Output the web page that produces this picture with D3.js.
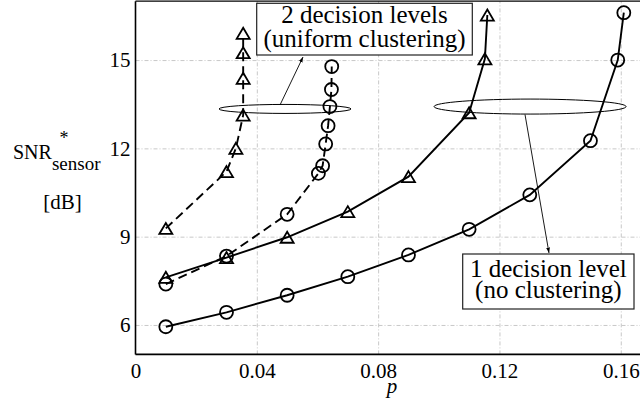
<!DOCTYPE html>
<html><head><meta charset="utf-8">
<script src="https://cdn.jsdelivr.net/npm/d3@7"></script>
<style>
body{margin:0;background:#fff}
svg{display:block}
</style>
</head><body>
<svg id="chart" width="640" height="399"></svg>
<script>
// Axis ticks
const xTicks = [0, 0.04, 0.08, 0.12, 0.16];
const yTicks = [6, 9, 12, 15];

// 1 decision level (no clustering)
const p1Circle   = [0.01, 0.03, 0.05, 0.07, 0.09, 0.11, 0.13, 0.15, 0.159, 0.161];
const snr1Circle = [5.94, 6.43, 7.01, 7.64, 8.38, 9.25, 10.42, 12.26, 15.0, 16.61];
const p1Tri      = [0.01, 0.03, 0.05, 0.07, 0.09, 0.11, 0.1152, 0.116];
const snr1Tri    = [7.62, 8.29, 8.98, 9.85, 11.04, 13.21, 15.04, 16.53];

// 2 decision levels (uniform clustering)
const p2Circle   = [0.01, 0.03, 0.05, 0.0603, 0.0617, 0.0627, 0.0635, 0.0641, 0.0646, 0.0647];
const snr2Circle = [7.39, 8.34, 9.76, 11.15, 11.41, 12.15, 12.77, 13.42, 14.0, 14.78];
const p2Tri      = [0.01, 0.03, 0.0331, 0.0355, 0.0355, 0.0355, 0.0355];
const snr2Tri    = [9.28, 11.21, 12.0, 13.13, 14.38, 15.25, 15.91];

const series = [
  {p: p1Circle, snr: snr1Circle, marker: "circle",   dash: null},
  {p: p1Tri,    snr: snr1Tri,    marker: "triangle", dash: null},
  {p: p2Circle, snr: snr2Circle, marker: "circle",   dash: "9,5"},
  {p: p2Tri,    snr: snr2Tri,    marker: "triangle", dash: "9,5"}
];

const SERIF = "'Liberation Serif', Tinos, 'Times New Roman', 'DejaVu Serif', serif";
const plotL = 135.5, plotB = 354.4, plotT = 1.2, plotR = 640;
const x = d3.scaleLinear().domain([0, 0.17]).range([plotL, plotL + 0.17 * 3033]);
const y = d3.scaleLinear().domain([5, 17]).range([plotB, plotT]);

const svg = d3.select("#chart").style("font-family", SERIF);

// grid + tick labels
const fmt = d => d === 0 ? "0" : d3.format(".2f")(d);
const gx = svg.append("g").attr("transform", `translate(0,${plotB})`)
  .call(d3.axisBottom(x).tickValues(xTicks).tickFormat(fmt).tickSizeInner(-(plotB - plotT)).tickSizeOuter(0).tickPadding(9));
const gy = svg.append("g").attr("transform", `translate(${plotL},0)`)
  .call(d3.axisLeft(y).tickValues(yTicks).tickSizeInner(-(plotR - plotL)).tickSizeOuter(0).tickPadding(5));
[gx, gy].forEach(g => {
  g.attr("font-family", null).attr("font-size", null);
  g.select(".domain").remove();
  g.selectAll(".tick line").attr("stroke", "#c8c8c8").attr("stroke-width", 1).attr("stroke-dasharray", "4,2,1,2");
  g.selectAll(".tick text").style("font-family", SERIF).style("font-size", "21px").attr("fill", "#000");
});
gx.selectAll(".tick").filter(d => d === 0).select("line").remove();

// frame
svg.append("line").attr("x1", plotL).attr("x2", plotL).attr("y1", plotT).attr("y2", plotB).attr("stroke", "#000").attr("stroke-width", 1.6);
svg.append("line").attr("x1", plotL).attr("x2", plotR).attr("y1", plotB).attr("y2", plotB).attr("stroke", "#000").attr("stroke-width", 1.6);
svg.append("line").attr("x1", plotL).attr("x2", plotR).attr("y1", plotT).attr("y2", plotT).attr("stroke", "#000").attr("stroke-width", 1.2);

// series
const line = d3.line().x(d => x(d[0])).y(d => y(d[1]));
const triPath = "M0,-5.5L6.5,5.5L-6.5,5.5Z";
series.forEach(s => {
  const pts = s.p.map((v, i) => [v, s.snr[i]]);
  svg.append("path").datum(pts).attr("d", line).attr("fill", "none")
    .attr("stroke", "#000").attr("stroke-width", 1.9).attr("stroke-dasharray", s.dash);
  const g = svg.append("g");
  pts.forEach(d => {
    if (s.marker === "circle") {
      g.append("circle").attr("cx", x(d[0])).attr("cy", y(d[1])).attr("r", 6.5)
        .attr("fill", "none").attr("stroke", "#000").attr("stroke-width", 1.8);
    } else {
      g.append("path").attr("d", triPath).attr("transform", `translate(${x(d[0])},${y(d[1])})`)
        .attr("fill", "none").attr("stroke", "#000").attr("stroke-width", 1.8);
    }
  });
});

// annotations
const defs = svg.append("defs");
defs.append("marker").attr("id", "arr").attr("viewBox", "0 0 10 10").attr("refX", 10).attr("refY", 5)
  .attr("markerWidth", 6).attr("markerHeight", 6).attr("orient", "auto")
  .append("path").attr("d", "M0,1.5L10,5L0,8.5Z").attr("fill", "#000");

function label(px, py, size, t, anchor) {
  return svg.append("text").attr("x", px).attr("y", py).attr("text-anchor", anchor || "start")
    .style("font-family", SERIF).style("font-size", size + "px").attr("fill", "#000").text(t);
}
function ellipse(cx, cy, rx, ry) {
  svg.append("ellipse").attr("cx", x(cx)).attr("cy", y(cy)).attr("rx", rx).attr("ry", ry)
    .attr("fill", "none").attr("stroke", "#000").attr("stroke-width", 1);
}
function arrow(x1, y1, x2, y2) {
  svg.append("line").attr("x1", x1).attr("y1", y1).attr("x2", x2).attr("y2", y2)
    .attr("stroke", "#000").attr("stroke-width", 0.9).attr("marker-end", "url(#arr)");
}
function box(x0, y0, w, h, lines, base, gap) {
  svg.append("rect").attr("x", x0).attr("y", y0).attr("width", w).attr("height", h)
    .attr("fill", "#fff").attr("stroke", "#222").attr("stroke-width", 1.2);
  lines.forEach((t, i) => label(x0 + w / 2, base + i * gap, 25, t, "middle"));
}

ellipse(0.0493, 13.34, 66, 4.5);
ellipse(0.1301, 13.42, 96, 7.5);
arrow(280, 105, 303, 57);
arrow(525, 114.5, 549, 253);
box(256.7, 3.3, 215.6, 51.7, ["2 decision levels", "(uniform clustering)"], 23, 23.5);
box(462.7, 254, 171.3, 55, ["1 decision level", "(no clustering)"], 276.5, 21.5);

// axis titles
label(392, 393, 21, "p", "middle").style("font-style", "italic");
const yl = label(13, 159, 20, "SNR");
yl.append("tspan").style("font-size", "19px").attr("dy", 11).text("sensor");
label(64, 144, 18, "*", "middle");
label(62.5, 209, 21, "[dB]", "middle");
</script>
</body></html>
